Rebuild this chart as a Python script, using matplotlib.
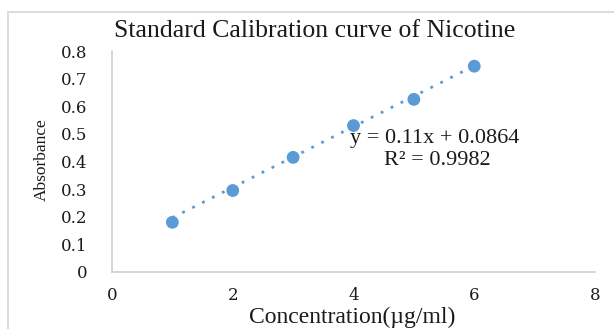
import matplotlib
matplotlib.use("Agg")
import matplotlib.pyplot as plt
import numpy as np
from matplotlib.patches import Rectangle

# Data
concentration = [1, 2, 3, 4, 5, 6]
absorbance = [0.18, 0.295, 0.415, 0.53, 0.625, 0.745]
slope = 0.11
intercept = 0.0864
r_squared = 0.9982
x_ticks = [0, 2, 4, 6, 8]
y_ticks = [0, 0.1, 0.2, 0.3, 0.4, 0.5, 0.6, 0.7, 0.8]

blue = "#5B9BD5"
serif = "Liberation Serif"
txt = "#1a1a1a"

fig = plt.figure(figsize=(6.14, 3.29), dpi=100)
ax = fig.add_axes([112/614, 1 - 272/329, (595 - 112)/614, (272 - 51)/329])

# outer chart border
fig.patches.append(Rectangle((8/614, -0.05), 1.1, 1 - 12/329 + 0.05,
                             transform=fig.transFigure, fill=False,
                             edgecolor="#dcdcdc", linewidth=1.4))

ax.scatter(concentration, absorbance, s=85, color=blue, zorder=3, edgecolors="none")
xf = np.array([min(concentration), max(concentration)])
ax.plot(xf, slope * xf + intercept, linestyle=(0, (1, 3.0)), color=blue, linewidth=2, zorder=2)

ax.set_xlim(0, 8)
ax.set_ylim(0, 0.8)
ax.set_xticks(x_ticks)
ax.set_xticklabels([str(t) for t in x_ticks])
ax.set_yticks(y_ticks)
ax.set_yticklabels(["0" if t == 0 else f"{t:.1f}" for t in y_ticks])
for s in ["top", "right"]:
    ax.spines[s].set_visible(False)
for s in ["left", "bottom"]:
    ax.spines[s].set_color("#d0d0d0")
    ax.spines[s].set_linewidth(1.2)
ax.tick_params(axis="y", length=0, labelsize=12, colors=txt, pad=18)
ax.tick_params(axis="x", length=0, labelsize=12, colors=txt, pad=11)
for lbl in ax.get_xticklabels() + ax.get_yticklabels():
    lbl.set_family("DejaVu Serif")

fig.text(315/614, 1 - 31/329, "Standard Calibration curve of Nicotine", family=serif,
         fontsize=18.5, color=txt, ha="center", va="center")
fig.text(352/614, 1 - 317/329, "Concentration(\u00b5g/ml)", family=serif,
         fontsize=17, color=txt, ha="center", va="center")
fig.text(42/614, 1 - 160/329, "Absorbance", family=serif, rotation=90,
         fontsize=12.5, color=txt, ha="center", va="center")

ax.text(5.35, 0.482, f"y = {slope}x + {intercept}", family=serif, fontsize=16,
        ha="center", va="center", color=txt)
ax.text(5.38, 0.402, f"R\u00b2 = {r_squared}", family=serif, fontsize=16,
        ha="center", va="center", color=txt)

fig.savefig("out.png", dpi=100)
